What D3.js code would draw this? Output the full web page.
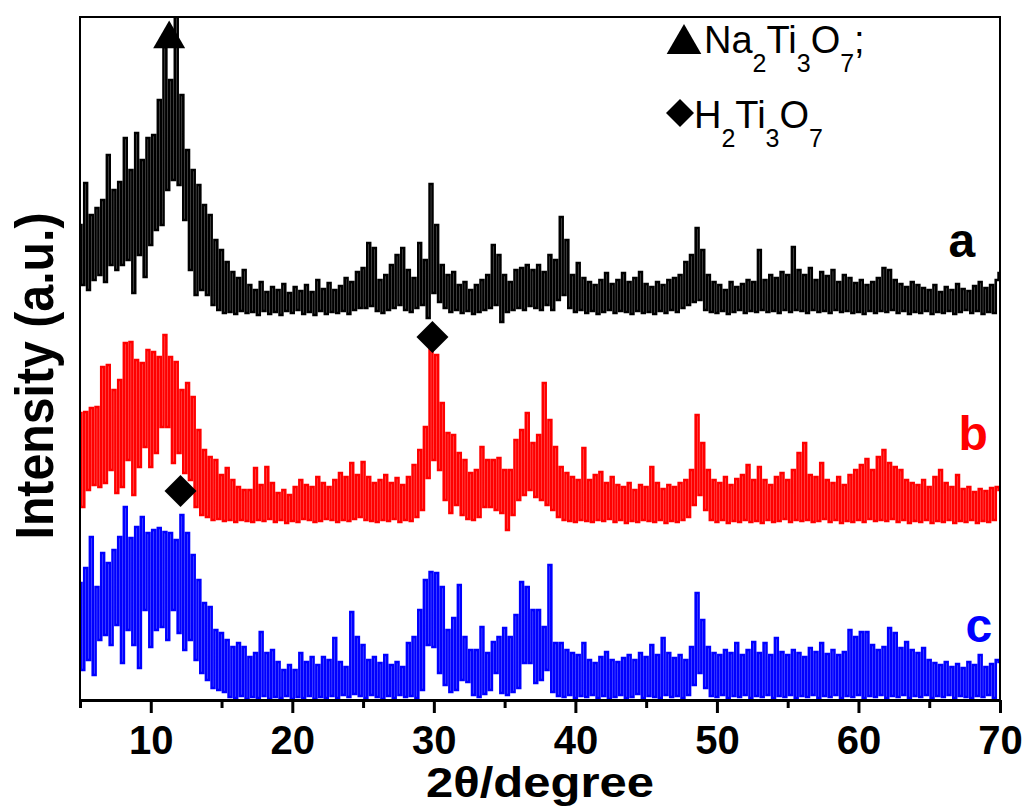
<!DOCTYPE html>
<html>
<head>
<meta charset="utf-8">
<script src="https://cdn.jsdelivr.net/npm/d3@7/dist/d3.min.js"></script>
<style>
  body { margin: 0; background: #fff; }
  svg { display: block; font-family: "Liberation Sans", Arial, sans-serif; }
</style>
</head>
<body>
<svg id="xrd" width="1025" height="812"></svg>
<script>
// XRD patterns a, b, c -- scan from 5 to 70 deg (2theta), 0.2 deg per point
var scanStart = 5, scanStep = 0.2;

// intensities, one row per degree
var patternA = [
  95, 35, 137, 30, 105,   40, 112, 45, 120, 38,   165, 55, 130, 50, 138,  55, 182, 60, 150, 27,
  187, 65, 160, 43, 182,  75, 185, 90, 220, 95,   273, 130, 240, 140, 303, 135, 225, 100, 170, 50,
  150, 25, 135, 30, 115,  25, 105, 15, 80, 10,    70, 7, 58, 8, 48,       6, 42, 9, 50, 7,
  35, 8, 30, 5, 38,       9, 28, 6, 33, 8,        30, 5, 36, 9, 27,       7, 33, 10, 29, 6,
  35, 8, 28, 5, 40,       9, 31, 6, 37, 8,        30, 7, 34, 9, 42,       6, 38, 10, 48, 12,
  52, 12, 77, 14, 72,     9, 40, 7, 45, 10,       55, 12, 65, 15, 72,     10, 50, 8, 42, 12,
  77, 15, 60, 2, 136,     27, 95, 18, 55, 12,     45, 8, 48, 10, 35,      7, 38, 9, 30, 6,
  35, 8, 40, 10, 45,      12, 75, 15, 65, -2,     45, 8, 38, 10, 50,      12, 52, 10, 55, 14,
  50, 12, 55, 10, 48,     15, 65, 10, 60, 20,     103, 25, 80, 12, 45,    8, 57, 10, 42, 7,
  38, 9, 35, 6, 40,       8, 47, 10, 36, 7,       40, 9, 47, 8, 38,       6, 42, 9, 48, 7,
  36, 8, 33, 6, 38,       9, 35, 7, 40, 10,       42, 8, 45, 12, 58,      15, 65, 18, 92, 20,
  70, 10, 45, 8, 38,      7, 35, 9, 30, 6,        38, 8, 33, 10, 36,      7, 40, 9, 38, 8,
  70, 10, 40, 8, 45,      9, 42, 7, 48, 10,       45, 8, 73, 10, 50,      9, 45, 7, 52, 10,
  40, 8, 48, 9, 44,       7, 50, 10, 38, 8,       45, 9, 42, 7, 37,       8, 40, 6, 35, 9,
  38, 7, 42, 9, 52,       8, 50, 10, 40, 7,       36, 9, 33, 6, 38,       8, 35, 7, 32, 9,
  30, 6, 35, 8, 28,       7, 33, 9, 30, 6,        36, 8, 31, 10, 29,      7, 34, 9, 38, 6,
  32, 8, 35, 7, 40,
  47
];

var patternB = [
  112, 18, 113, 35, 117,  40, 118, 38, 158, 42,   160, 55, 135, 32, 145,  38, 182, 65, 183, 30,
  165, 58, 162, 78, 175,  58, 173, 72, 168, 98,   190, 98, 168, 62, 163,  72, 135, 52, 142, 45,
  128, 18, 95, 10, 75,    8, 68, 5, 65, 6,        50, 4, 57, 5, 45,       3, 38, 5, 35, 4,
  35, 3, 57, 5, 40,       4, 58, 6, 42, 3,        32, 5, 35, 2, 30,       4, 38, 3, 45, 6,
  40, 5, 38, 3, 48,       4, 42, 6, 38, 5,        45, 3, 52, 5, 48,       4, 62, 6, 50, 8,
  63, 5, 48, 4, 42,       3, 45, 5, 50, 4,        42, 6, 47, 3, 40,       5, 48, 4, 60, 8,
  75, 15, 98, 47, 177,    65, 170, 55, 122, 25,   92, 12, 90, 20, 72,     10, 65, 6, 52, 5,
  55, 8, 78, 18, 65,      18, 65, 15, 67, 12,     55, -5, 55, 10, 85,     25, 95, 30, 112, 35,
  82, 28, 90, 25, 142,    20, 105, 15, 78, 8,     58, 5, 52, 4, 48,       3, 45, 5, 77, 4,
  45, 3, 50, 5, 53,       4, 42, 6, 48, 3,        40, 5, 38, 2, 42,       4, 35, 3, 40, 5,
  38, 4, 58, 3, 42,       5, 36, 2, 40, 4,        38, 3, 42, 5, 45,       8, 55, 20, 110, 30,
  82, 15, 55, 5, 45,      3, 42, 5, 48, 2,        40, 4, 46, 3, 50,       5, 60, 3, 45, 4,
  58, 2, 45, 5, 40,       3, 48, 4, 52, 6,        45, 3, 55, 5, 72,       4, 82, 5, 50, 3,
  48, 4, 62, 6, 45,       3, 42, 5, 48, 2,        40, 4, 50, 3, 55,       5, 60, 3, 66, 6,
  55, 4, 68, 5, 75,       4, 62, 6, 58, 3,        55, 5, 45, 2, 42,       4, 40, 3, 45, 5,
  38, 2, 48, 4, 55,       3, 42, 5, 38, 2,        50, 4, 36, 3, 38,       5, 33, 2, 36, 4,
  34, 3, 37, 5, 38,
  35
];

var patternC = [
  117, 30, 132, 40, 163,  25, 113, 60, 147, 65,   137, 55, 150, 75, 163,  37, 193, 70, 162, 55,
  173, 32, 183, 90, 167,  53, 170, 70, 172, 73,   168, 60, 167, 90, 160,  67, 185, 50, 167, 60,
  145, 40, 120, 27, 97,   20, 93, 12, 70, 10,     67, 8, 60, 3, 53,       2, 57, 4, 53, 1,
  43, 3, 47, 2, 68,       4, 47, 1, 50, 3,        38, 2, 30, 4, 35,       1, 30, 3, 47, 2,
  38, 4, 43, 1, 35,       3, 43, 2, 40, 4,        62, 2, 38, 5, 33,       3, 88, 6, 63, 4,
  55, 2, 40, 5, 43,       3, 37, 1, 45, 4,        35, 2, 38, 5, 33,       3, 57, 4, 63, 2,
  90, 10, 120, 55, 128,   53, 127, 27, 113, 15,   70, 8, 82, 10, 115,     20, 63, 18, 50, 5,
  50, 3, 73, 6, 47,       10, 58, 27, 63, 7,      72, 5, 63, 8, 85,       12, 118, 37, 113, 37,
  90, 17, 90, 20, 73,     30, 135, 8, 57, 4,      57, 3, 50, 5, 47,       2, 45, 4, 57, 3,
  40, 5, 37, 2, 43,       4, 48, 1, 40, 3,        38, 5, 42, 2, 45,       3, 40, 6, 47, 2,
  43, 4, 55, 3, 45,       2, 62, 5, 47, 3,        42, 4, 45, 2, 40,       5, 53, 15, 107, 27,
  80, 12, 53, 4, 47,      3, 45, 5, 50, 2,        47, 4, 57, 3, 45,       5, 50, 2, 58, 4,
  47, 3, 57, 5, 45,       2, 62, 4, 48, 3,        45, 5, 50, 2, 47,       4, 43, 3, 52, 5,
  48, 2, 57, 4, 46,       3, 50, 5, 45, 2,        48, 4, 70, 3, 63,       5, 68, 2, 68, 4,
  55, 3, 50, 5, 53,       2, 72, 4, 67, 3,        52, 5, 58, 2, 50,       4, 47, 3, 52, 5,
  40, 2, 37, 4, 35,       3, 38, 5, 33, 2,        36, 4, 32, 3, 38,       2, 35, 4, 45, 3,
  33, 5, 36, 2, 40,
  38
];

var seriesNames = ["a", "b", "c"];
var seriesColors = ["#000000", "#ff0000", "#0000ff"];
var seriesOffsets = [380, 175, 0];   // vertical stacking of the patterns
var seriesData = [patternA, patternB, patternC];

var xTicks = [10, 20, 30, 40, 50, 60, 70];
var xMinorTicks = [5, 15, 25, 35, 45, 55, 65];

// phase reflections marked on the patterns
var phaseMarks = [
  { series: 0, twoTheta: 11.3, level: 281, shape: "triangle" },
  { series: 1, twoTheta: 29.9, level: 188, shape: "diamond" },
  { series: 2, twoTheta: 12.1, level: 209, shape: "diamond" }
];
var legendItems = [
  { shape: "triangle", formula: "Na2Ti3O7;" },
  { shape: "diamond", formula: "H2Ti3O7" }
];

var svg = d3.select("#xrd");
// (plotTop, not "top": window.top is read-only)
var plotLeft = 80, plotRight = 1000, plotTop = 17, plotBottom = 700;

var x = d3.scaleLinear().domain([5, 70]).range([plotLeft, plotRight]);
var y = d3.scaleLinear().domain([0, 683]).range([plotBottom, plotTop]);

function markPath(shape, size) {
  if (shape === "triangle") return d3.symbol(d3.symbolTriangle, size)();
  return d3.symbol(d3.symbolSquare, size)();
}

svg.append("clipPath").attr("id", "plotClip")
  .append("rect").attr("x", plotLeft).attr("y", plotTop - 1)
  .attr("width", plotRight - plotLeft).attr("height", plotBottom - plotTop + 1);

// the three patterns -- stepped, so every count is a vertical stroke like the detector trace
seriesData.forEach(function (values, s) {
  var line = d3.line()
    .curve(d3.curveStep)
    .x(function (d, i) { return x(scanStart + i * scanStep) })
    .y(function (d) { return y(d + seriesOffsets[s]) });
  svg.append("path")
    .datum(values)
    .attr("clip-path", "url(#plotClip)")
    .attr("d", line)
    .attr("fill", "none")
    .attr("stroke", seriesColors[s])
    .attr("stroke-width", 2.6);
});

// frame
svg.append("rect")
  .attr("x", plotLeft).attr("y", plotTop)
  .attr("width", plotRight - plotLeft).attr("height", plotBottom - plotTop)
  .attr("fill", "none").attr("stroke", "#000").attr("stroke-width", 2);

// x axis, major + minor ticks
var xAxis = svg.append("g")
  .attr("transform", "translate(0," + plotBottom + ")")
  .call(d3.axisBottom(x).tickValues(xTicks).tickSize(13).tickSizeOuter(0).tickPadding(13)
    .tickFormat(d3.format("d")));
xAxis.select(".domain").attr("stroke-width", 3);
xAxis.selectAll(".tick line").attr("stroke-width", 3);
xAxis.selectAll(".tick text")
  .attr("font-family", "Liberation Sans, Arial, sans-serif")
  .attr("font-size", 40).attr("font-weight", "bold").attr("fill", "#000");

var xMinor = svg.append("g")
  .attr("transform", "translate(0," + plotBottom + ")")
  .call(d3.axisBottom(x).tickValues(xMinorTicks).tickSize(8).tickSizeOuter(0).tickFormat(""));
xMinor.select(".domain").remove();
xMinor.selectAll(".tick line").attr("stroke-width", 3);

// axis titles
svg.append("text")
  .attr("x", (plotLeft + plotRight) / 2).attr("y", 797)
  .attr("text-anchor", "middle")
  .attr("font-size", 43).attr("font-weight", "bold")
  .attr("textLength", 228).attr("lengthAdjust", "spacingAndGlyphs")
  .text("2θ/degree");

svg.append("text")
  .attr("transform", "translate(53,376) rotate(-90)")
  .attr("text-anchor", "middle")
  .attr("font-size", 54).attr("font-weight", "bold")
  .attr("textLength", 327).attr("lengthAdjust", "spacingAndGlyphs")
  .text("Intensity (a.u.)");

// phase markers on the peaks
svg.selectAll("path.mark")
  .data(phaseMarks)
  .enter().append("path")
  .attr("class", "mark")
  .attr("d", function (d) { return markPath(d.shape, d.shape === "triangle" ? 443 : 512) })
  .attr("transform", function (d) {
    var t = "translate(" + x(d.twoTheta) + "," + y(d.level + seriesOffsets[d.series]) + ")";
    return d.shape === "diamond" ? t + " rotate(45)" : t;
  })
  .attr("fill", "#000");

// series letters
var letterPos = [{ t: 67.3, v: 63 }, { t: 68.1, v: 75 }, { t: 68.5, v: 58 }];
svg.selectAll("text.series")
  .data(seriesNames)
  .enter().append("text")
  .attr("class", "series")
  .attr("x", function (d, i) { return x(letterPos[i].t) })
  .attr("y", function (d, i) { return y(letterPos[i].v + seriesOffsets[i]) })
  .attr("text-anchor", "middle")
  .attr("font-size", 48).attr("font-weight", "bold")
  .attr("fill", function (d, i) { return seriesColors[i] })
  .text(function (d) { return d });

// legend
var legendRows = [{ mx: 684, my: 44, tx: 704, ty: 53 }, { mx: 680, my: 113, tx: 694, ty: 128 }];
legendItems.forEach(function (item, k) {
  var r = legendRows[k];
  svg.append("path")
    .attr("d", markPath(item.shape, item.shape === "triangle" ? 520 : 392))
    .attr("transform", "translate(" + r.mx + "," + r.my + ")" + (item.shape === "diamond" ? " rotate(45)" : ""))
    .attr("fill", "#000");
  var txt = svg.append("text")
    .attr("x", r.tx).attr("y", r.ty)
    .attr("font-size", 38);
  var sub = false;
  item.formula.split(/(\d)/).filter(function (p) { return p.length }).forEach(function (p) {
    var isDigit = /\d/.test(p);
    txt.append("tspan")
      .attr("dy", isDigit && !sub ? 19 : (!isDigit && sub ? -19 : 0))
      .attr("font-size", isDigit ? 25 : 38)
      .text(p);
    sub = isDigit;
  });
});
</script>
</body>
</html>
